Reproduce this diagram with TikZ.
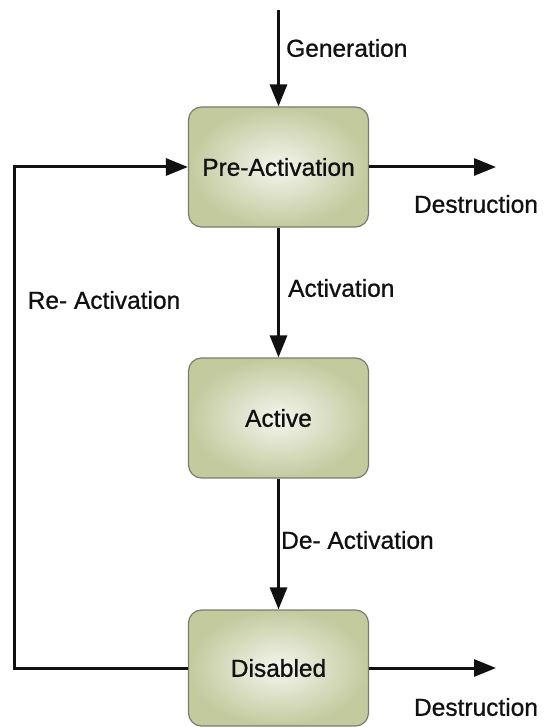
\documentclass[tikz,border=0pt]{standalone}
\usepackage{fontspec}
\setmainfont{Liberation Sans}
\newfontfamily\labelfont{Liberation Sans}[FakeBold=0.9]
\usetikzlibrary{arrows.meta}
\definecolor{boxedge}{HTML}{7A7C70}
\definecolor{boxout}{HTML}{C3CA9E}
\definecolor{boxin}{HTML}{F4F5EE}
\definecolor{ink}{HTML}{111111}
\tikzset{
  statebox/.style={draw=boxedge, line width=1.2pt, rounded corners=13pt,
    shading=radial, inner color=boxin, outer color=boxout,
    minimum width=180pt, minimum height=120pt, inner sep=0pt,
    text=ink, font=\labelfont\fontsize{24.5}{28}\selectfont},
  lbl/.style={text=ink, font=\labelfont\fontsize{24.5}{28}\selectfont, inner sep=0pt},
  conn/.style={draw=ink, line width=3pt,
    -{Triangle[length=22pt,width=17pt]}},
}
\begin{document}
\begin{tikzpicture}[x=1pt,y=-1pt]
\useasboundingbox (0,0) rectangle (543,727);
\node[statebox] (pre) at (278.5,167) {Pre-Activation};
\node[statebox] (act) at (278.5,418) {Active};
\node[statebox, minimum height=116pt] (dis) at (278.5,668) {Disabled};
\coordinate (gen) at (278.5,10);
\coordinate (d1) at (496,167);
\coordinate (d2) at (496,668);
\coordinate (lb) at (14,668);
\coordinate (lt) at (14,167);
\draw[conn] (gen) -- (pre.north);
\draw[conn] (pre.south) -- (act.north);
\draw[conn] (act.south) -- (dis.north);
\draw[conn] (pre.east) -- (d1);
\draw[conn] (dis.east) -- (d2);
\draw[conn] (dis.west) -- (lb) -- (lt) -- (pre.west);
\node[lbl, anchor=west] (lgen) at (286,48) {Generation};
\node[lbl, anchor=west] (lact) at (288,288) {Activation};
\node[lbl, anchor=west] (lde) at (281,540) {De- Activation};
\node[lbl] (lre) at (104,300) {Re- Activation};
\node[lbl] (ld1) at (476,204) {Destruction};
\node[lbl] (ld2) at (476,707) {Destruction};
\end{tikzpicture}
\end{document}
